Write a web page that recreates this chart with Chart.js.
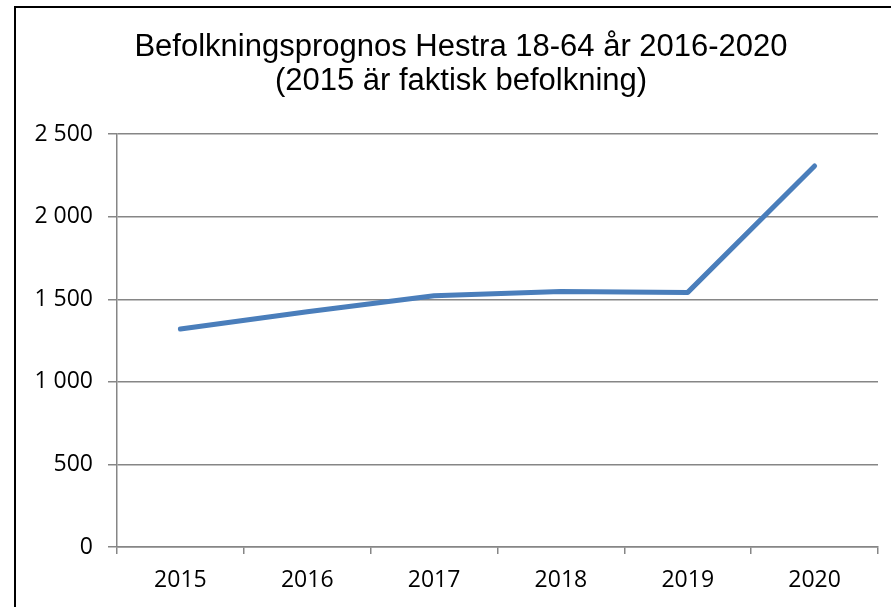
<!DOCTYPE html>
<html>
<head>
<meta charset="utf-8">
<script src="https://cdn.jsdelivr.net/npm/chart.js@4"></script>
<style>
    html, body { margin: 0; padding: 0; background: #fff; overflow: hidden; }
    #wrap { position: absolute; left: 0; top: 0; width: 891px; height: 607px; }
    #frame { position: absolute; left: 14px; top: 6px; width: 1000px; height: 1000px;
             border-left: 2px solid #000; border-top: 2px solid #000; pointer-events: none; }
</style>
</head>
<body>
<div id="wrap"><canvas id="chart"></canvas></div>
<div id="frame"></div>
<script>
// data
const years = ['2015', '2016', '2017', '2018', '2019', '2020'];
const population = [1320, 1425, 1522, 1548, 1542, 2308];
const titleLines = ['Befolkningsprognos Hestra 18-64 år 2016-2020', '(2015 är faktisk befolkning)'];

const gridGrey = '#868686';
const tickFont = { family: '"Open Sans", sans-serif', size: 23 };

// "2 500" style thousands
function formatThousands(value) {
    return String(value).replace(/\B(?=(\d{3})+(?!\d))/g, ' ');
}

const ctx = document.getElementById('chart').getContext('2d');
new Chart(ctx, {
    type: 'line',
    data: {
        labels: years,
        datasets: [{
            data: population,
            borderColor: '#4a7ebb',
            borderWidth: 5,
            borderCapStyle: 'round',
            borderJoinStyle: 'round',
            pointRadius: 0,
            tension: 0,
            fill: false
        }]
    },
    options: {
        responsive: true,
        maintainAspectRatio: false,
        animation: false,
        layout: { padding: { left: 31, right: 0, top: 0, bottom: 0 } },
        plugins: {
            legend: { display: false },
            tooltip: { enabled: false },
            title: {
                display: true,
                text: titleLines,
                color: '#000',
                font: { family: '"Liberation Sans", Arial, sans-serif', size: 31, weight: 'normal', lineHeight: 1.1 },
                padding: { top: 30, bottom: 36 }
            }
        },
        scales: {
            x: {
                offset: true,
                grid: { drawOnChartArea: false, drawTicks: true, tickLength: 7, color: gridGrey, lineWidth: 1.5, offset: true },
                border: { color: gridGrey, width: 1.5 },
                ticks: { color: '#000', padding: 13, font: tickFont },
                afterFit: scale => { scale.height = 60; }
            },
            y: {
                min: 0,
                max: 2500,
                grid: { color: gridGrey, lineWidth: 1.5, tickLength: 9 },
                border: { color: gridGrey, width: 1.5 },
                ticks: {
                    stepSize: 500,
                    color: '#000',
                    padding: 15,
                    font: tickFont,
                    callback: value => formatThousands(value)
                },
                afterFit: scale => { scale.width = 86; }
            },
            // empty right-hand strip so the plot stops short of the edge
            spacer: {
                type: 'linear',
                position: 'right',
                display: true,
                grid: { display: false },
                border: { display: false },
                ticks: { display: false },
                afterFit: scale => { scale.width = 13; }
            }
        }
    }
});
</script>
</body>
</html>
